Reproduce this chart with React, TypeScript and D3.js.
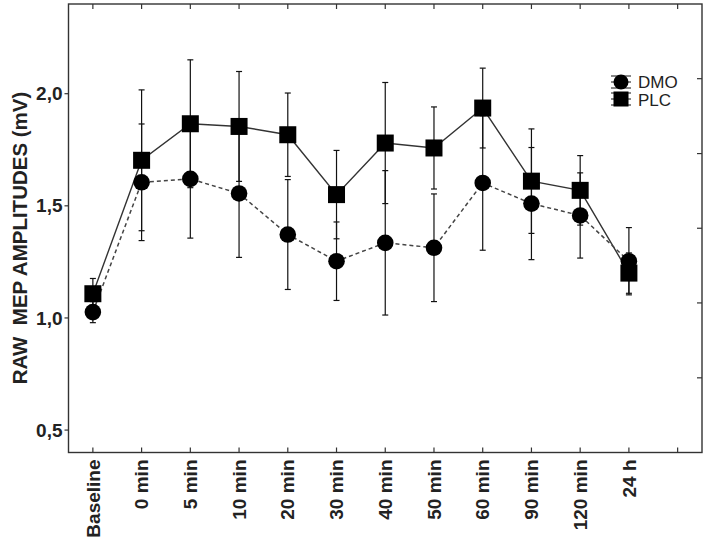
import React from 'react';
import * as d3 from 'd3';

// time points on the x axis (one extra empty slot at the right end)
const categories = ['Baseline', '0 min', '5 min', '10 min', '20 min', '30 min', '40 min', '50 min', '60 min', '90 min', '120 min', '24 h'];

// mean raw MEP amplitudes (mV) and error bar half-widths
const dmoValues = [1.026, 1.605, 1.62, 1.555, 1.372, 1.253, 1.335, 1.313, 1.602, 1.51, 1.457, 1.253];
const dmoErrors = [0.047, 0.26, 0.264, 0.285, 0.245, 0.175, 0.322, 0.24, 0.3, 0.25, 0.19, 0.15];
const plcValues = [1.108, 1.703, 1.866, 1.854, 1.817, 1.55, 1.78, 1.758, 1.936, 1.61, 1.569, 1.2];
const plcErrors = [0.068, 0.314, 0.285, 0.245, 0.186, 0.197, 0.27, 0.183, 0.178, 0.233, 0.155, 0.09];

const yTicks = [0.5, 1.0, 1.5, 2.0];
const rightTicks = [0.733, 1.067, 1.4, 1.733, 2.067];

const W = 708;
const H = 544;
const left = 68.5, right = 702, top = 4, bottom = 452.5;

const font = 'Arial, "Liberation Sans", sans-serif';

export default function App() {
  const x = d3.scaleLinear().domain([-0.5, categories.length + 0.5]).range([left, right]);
  const y = d3.scaleLinear().domain([0.4, 2.4]).range([bottom, top]);
  const xTickIdx = d3.range(categories.length + 1);
  const fmt = (v: number) => v.toFixed(1).replace('.', ',');

  const line = d3.line<number>().x((_, i) => x(i)).y(v => y(v));

  const errorBars = (vals: number[], errs: number[], key: string) =>
    vals.map((v, i) => {
      const cx = x(i);
      const y1 = y(v + errs[i]);
      const y2 = y(v - errs[i]);
      return (
        <g key={key + i} stroke="#111" strokeWidth={1.2}>
          <line x1={cx} x2={cx} y1={y1} y2={y2} />
          <line x1={cx - 3} x2={cx + 3} y1={y1} y2={y1} />
          <line x1={cx - 3} x2={cx + 3} y1={y2} y2={y2} />
        </g>
      );
    });

  return (
    <div style={{ position: 'absolute', left: 0, top: 0 }}>
      <svg width={W} height={H} style={{ display: 'block', background: '#fff' }}>
        {/* series lines */}
        <path d={line(plcValues) || ''} fill="none" stroke="#333" strokeWidth={1.4} />
        <path d={line(dmoValues) || ''} fill="none" stroke="#444" strokeWidth={1.5} strokeDasharray="4,3" />

        {errorBars(dmoValues, dmoErrors, 'de')}
        {errorBars(plcValues, plcErrors, 'pe')}

        {/* markers */}
        {dmoValues.map((v, i) => (
          <circle key={'dm' + i} cx={x(i)} cy={y(v)} r={8.3} fill="#000" />
        ))}
        {plcValues.map((v, i) => (
          <rect key={'pm' + i} x={x(i) - 8.5} y={y(v) - 8.5} width={17} height={17} fill="#000" />
        ))}

        {/* frame */}
        <rect x={left} y={top} width={right - left} height={bottom - top} fill="none" stroke="#333" strokeWidth={1.4} />

        {/* bottom & top ticks (inside) */}
        {xTickIdx.map(i => (
          <g key={'xt' + i} stroke="#333" strokeWidth={1.2}>
            <line x1={x(i)} x2={x(i)} y1={bottom} y2={bottom - 5} />
            <line x1={x(i)} x2={x(i)} y1={top} y2={top + 5} />
          </g>
        ))}

        {/* right ticks (inside) */}
        {rightTicks.map((t, i) => (
          <line key={'rt' + i} x1={right} x2={right - 5} y1={y(t)} y2={y(t)} stroke="#333" strokeWidth={1.2} />
        ))}

        {/* left axis ticks and labels */}
        {yTicks.map(t => (
          <g key={'yt' + t}>
            <line x1={left} x2={left - 4} y1={y(t)} y2={y(t)} stroke="#333" strokeWidth={1.2} />
            <text x={left - 6} y={y(t)} dy="0.35em" textAnchor="end" fontFamily={font} fontWeight="bold" fontSize={19} fill="#222">
              {fmt(t)}
            </text>
          </g>
        ))}

        {/* x labels */}
        {categories.map((c, i) => (
          <text
            key={'xl' + i}
            transform={`translate(${x(i)},${bottom + 7}) rotate(-90)`}
            dy="0.35em"
            textAnchor="end"
            fontFamily={font}
            fontWeight="bold"
            fontSize={19}
            fill="#222"
          >
            {c}
          </text>
        ))}

        {/* y axis title */}
        <text
          transform={`translate(20,238) rotate(-90)`}
          dy="0.35em"
          textAnchor="middle"
          fontFamily={font}
          fontWeight="bold"
          fontSize={20.5}
          fill="#222"
          style={{ whiteSpace: 'pre' }}
        >
          {'RAW  MEP AMPLITUDES (mV)'}
        </text>

        {/* legend */}
        <g>
          <g stroke="#111" strokeWidth={1}>
            <line x1={611} x2={631} y1={76} y2={76} />
            <line x1={611} x2={631} y1={82} y2={82} />
            <line x1={611} x2={631} y1={88} y2={88} />
            <line x1={611} x2={631} y1={93} y2={93} />
            <line x1={611} x2={631} y1={99} y2={99} />
            <line x1={611} x2={631} y1={105} y2={105} />
          </g>
          <circle cx={621} cy={82} r={7.5} fill="#000" />
          <rect x={613.5} y={91.5} width={15} height={15} fill="#000" />
          <text x={638} y={88} fontFamily={font} fontSize={17} fill="#222">DMO</text>
          <text x={638} y={105.5} fontFamily={font} fontSize={17} fill="#222">PLC</text>
        </g>
      </svg>
    </div>
  );
}
